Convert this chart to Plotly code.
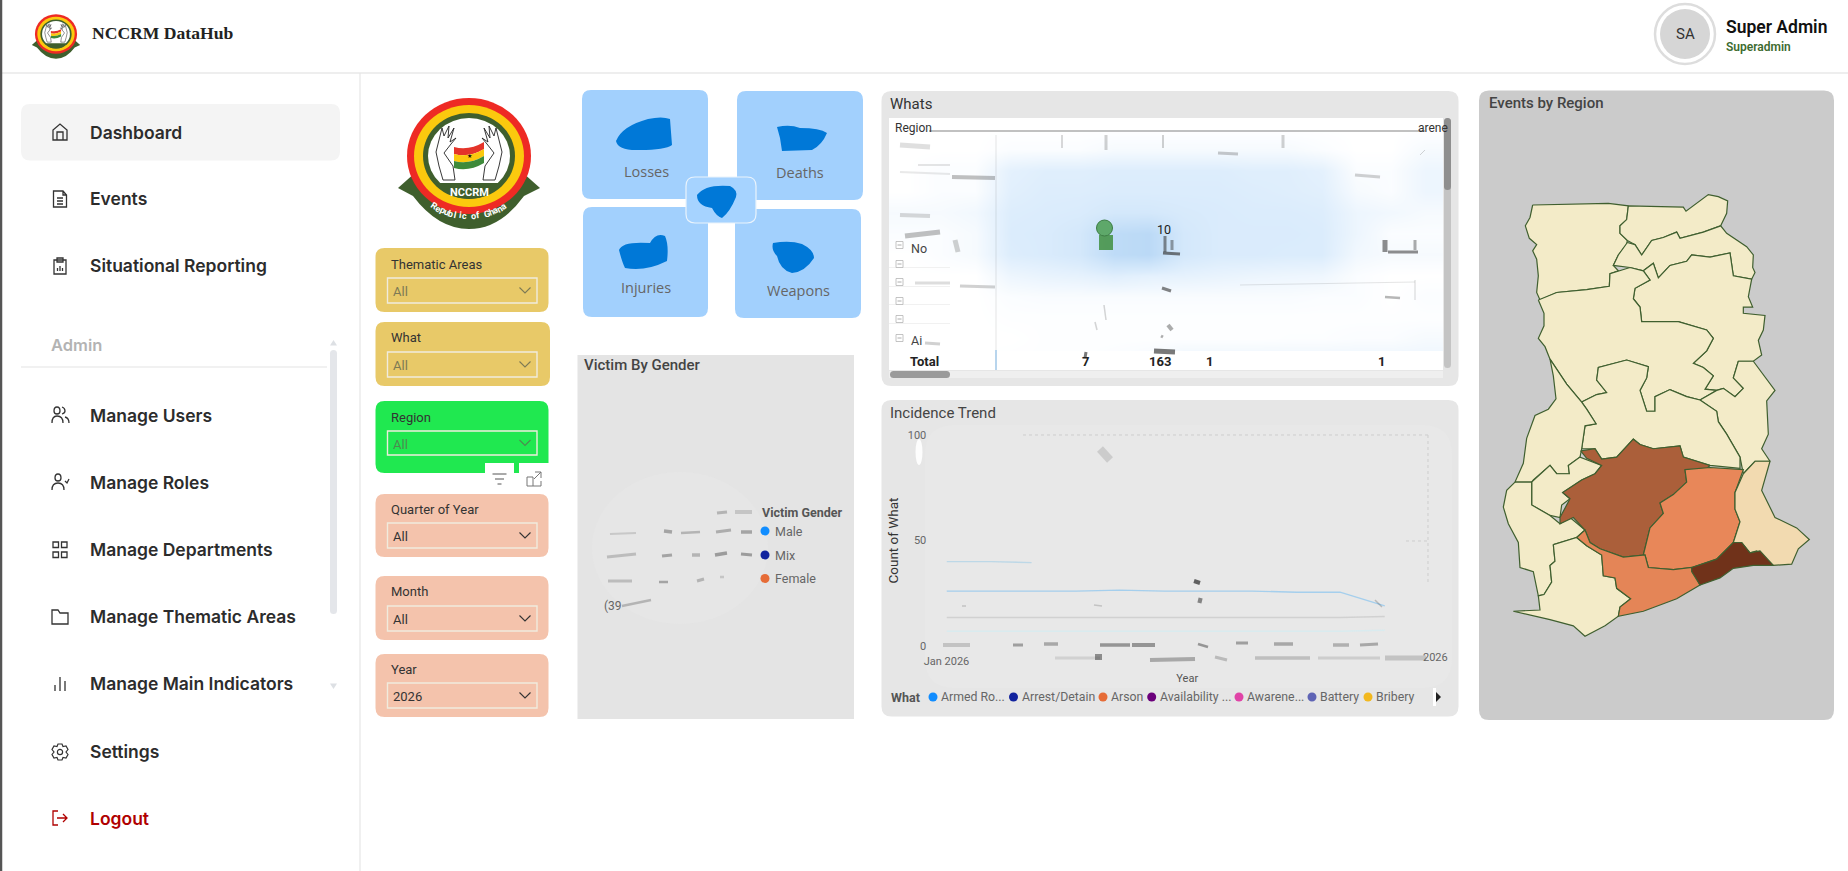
import math
import re
import plotly.graph_objects as go

W, H = 1848, 871

# sidebar
nav_items = ["Dashboard", "Events", "Situational Reporting", "Manage Users", "Manage Roles",
             "Manage Departments", "Manage Thematic Areas", "Manage Main Indicators", "Settings", "Logout"]

# slicers
slicer_names = ["Thematic Areas", "What", "Region", "Quarter of Year", "Month", "Year"]
slicer_values = ["All", "All", "All", "All", "All", "2026"]

# kpi cards
kpi_names = ["Losses", "Deaths", "Injuries", "Weapons"]

# victim legend
gender_names = ["Male", "Mix", "Female"]
gender_colors = ["#118DFF", "#12239E", "#E66C37"]

# whats table, blue wash per row / column
whats_totals = ["7", "163", "1", "1"]
whats_wash = [
    [0, 0, 0, 0, 0, 0, 0, 0, 0, 0, 0, 0, 0, 0, 0, 0],
    [0, 0, 0, .05, .05, .05, .1, .1, .1, .1, .1, .1, .05, 0, 0, .1],
    [0, .05, .05, .3, .35, .35, .38, .38, .38, .38, .35, .35, .3, .05, .05, .2],
    [0, .05, .05, .33, .38, .38, .4, .4, .4, .4, .38, .36, .33, .1, .05, .2],
    [.1, .1, .15, .38, .4, .42, .5, .5, .45, .42, .4, .4, .38, .2, .15, .1],
    [.05, .05, .1, .4, .42, .5, .8, .85, .5, .42, .42, .42, .4, .2, .05, .05],
    [0, .05, .1, .38, .42, .5, .8, .85, .5, .42, .42, .4, .4, .15, .1, .1],
    [0, 0, 0, .2, .25, .28, .35, .3, .28, .25, .22, .2, .18, .05, 0, 0],
    [0, 0, 0, .05, .07, .07, .07, .07, .07, .07, .07, .07, .05, .05, 0, .05],
    [0, 0, 0, .02, .02, .02, .02, .02, .02, .02, .02, .02, .02, .02, .02, .02],
    [0, 0, 0, 0, .02, .02, .02, .02, .02, .02, .02, .03, .03, .05, .05, .1],
    [0, 0, 0, .02, .02, .02, .05, .1, .2, .2, .2, .2, .2, .2, .2, .2],
]

# incidence trend
trend_months = ["2026-01-01", "2026-02-01", "2026-03-01", "2026-04-01", "2026-05-01", "2026-06-01",
                "2026-07-01", "2026-08-01", "2026-09-01", "2026-10-01", "2026-11-01"]
armed_robbery = [26, 26, 26, 26, 26.5, 26, 26, 26, 25.5, 25.5, 19]
arrest_detain = [40, 40, 39.5, None, None, None, None, None, None, None, None]
arson = [13.5, 13.5, 13.5, 13.5, 13.5, 13.5, 13.5, 13.5, 13.5, 13.5, 14]
awareness = [7, 7, 7, 7, 7, 7, 7, 7, 7, 7, 7.5]
trend_legend = ["Armed Ro...", "Arrest/Detain", "Arson", "Availability ...", "Awarene...", "Battery", "Bribery"]
trend_colors = ["#118DFF", "#12239E", "#E66C37", "#6B007B", "#E044A7", "#5F64B5", "#F2B81F"]

# region outlines, map units
upper_west = [(188,300),(300,298),(415,296),(475,302),(470,335),(450,350),(450,368),(472,385),(470,395),(445,420),
              (430,445),(445,458),(420,465),(418,495),(350,503),(260,510),(210,528),(200,510),(205,470),(200,430),
              (188,410),(200,395),(178,380),(166,350),(180,330)]
upper_east = [(475,302),(640,305),(648,315),(680,295),(715,275),(745,280),(773,290),(770,320),(752,350),(700,365),
              (630,380),(620,365),(580,378),(545,385),(515,420),(495,395),(472,385),(450,368),(450,350),(470,335)]
north_east = [(472,390),(495,395),(515,420),(545,385),(580,378),(620,365),(630,380),(700,365),(752,350),(770,368),
              (830,400),(850,420),(848,450),(855,462),(845,478),(790,470),(780,415),(720,425),(665,420),(650,435),
              (600,445),(565,475),(550,440),(520,458),(480,450),(430,445),(445,420)]
northern = [(520,458),(550,440),(565,475),(600,445),(650,435),(665,420),(720,425),(780,415),(790,470),(845,478),
            (835,520),(848,545),(820,545),(820,560),(885,565),(880,600),(865,625),(875,660),(850,675),(805,675),
            (790,715),(820,740),(795,760),(760,740),(740,745),(705,742),(730,710),(700,690),(670,680),(710,650),
            (730,620),(710,600),(625,580),(515,580),(510,545),(490,525),(495,500),(540,480)]
savannah = [(205,528),(260,510),(350,503),(418,495),(420,465),(445,458),(480,450),(520,458),(540,480),(495,500),
            (490,525),(510,545),(515,580),(625,580),(710,600),(730,620),(710,650),(670,680),(700,690),(730,710),
            (705,742),(740,745),(690,768),(650,760),(600,743),(555,760),(555,795),(530,795),(510,745),(530,715),
            (535,688),(470,672),(385,690),(380,720),(410,750),(380,755),(335,773),(290,730),(240,670),(225,640),
            (205,620),(222,590),(222,560)]
oti = [(805,675),(850,675),(915,745),(890,770),(895,850),(875,885),(900,915),(855,915),(820,945),(810,905),
       (770,850),(745,820),(740,795),(690,768),(740,745),(760,740),(795,760),(820,740),(790,715)]
bono_east = [(335,773),(380,755),(410,750),(380,720),(385,690),(470,672),(535,688),(530,715),(510,745),(530,795),
             (555,795),(555,760),(600,743),(650,760),(690,768),(740,795),(745,820),(770,850),(810,905),(810,932),
             (720,925),(640,905),(630,878),(550,885),(510,875),(490,862),(440,905),(395,910),(375,885),(335,885),
             (345,830),(378,825),(350,790)]
bono = [(240,670),(290,730),(335,773),(350,790),(378,825),(345,830),(335,885),(330,905),(295,925),(298,945),
        (260,945),(240,925),(190,960),(185,965),(135,965),(160,920),(170,860),(195,805),(235,790),(258,765),(250,710)]
ahafo = [(185,965),(240,925),(260,945),(298,945),(295,925),(330,905),(395,925),(375,945),(335,960),(278,990),(300,1005),
         (275,1020),(270,1050),(240,1045),(185,1020)]
ashanti = [(332,890),(375,885),(395,910),(440,905),(490,862),(510,875),(550,885),(630,878),(640,905),(720,925),
           (700,940),(645,935),(650,965),(610,995),(570,1015),(580,1040),(540,1075),(520,1140),(460,1145),(390,1125),
           (360,1110),(345,1080),(310,1050),(270,1065),(270,1050),(300,1005),(278,990),(335,960),(375,945),(395,925),
           (350,908)]
eastern = [(645,935),(720,930),(820,935),(795,990),(795,1030),(810,1060),(790,1110),(740,1150),(665,1170),(610,1175),
           (535,1170),(525,1140),(520,1140),(540,1075),(580,1040),(570,1015),(610,995),(650,965)]
volta = [(820,945),(855,915),(900,915),(875,985),(915,1050),(980,1075),(1018,1103),(985,1125),(965,1162),(910,1165),
         (860,1130),(840,1135),(815,1110),(790,1110),(810,1060),(795,1030),(795,990)]
greater_accra = [(665,1170),(740,1150),(790,1110),(815,1110),(840,1135),(870,1130),(910,1165),(850,1165),(790,1172),
                 (750,1195),(690,1212),(665,1180)]
central = [(320,1098),(345,1080),(360,1110),(390,1125),(460,1145),(525,1140),(535,1170),(610,1175),(665,1170),
           (690,1212),(620,1245),(520,1275),(445,1287),(450,1265),(482,1245),(440,1220),(435,1195),(400,1190),
           (395,1140),(350,1118)]
western = [(250,1115),(320,1098),(350,1118),(395,1140),(400,1190),(435,1195),(440,1220),(482,1245),(450,1265),
           (445,1287),(405,1310),(345,1335),(310,1310),(240,1295),(130,1275),(210,1272),(205,1238),(222,1235),
           (245,1205),(240,1165),(255,1155)]
western_north = [(135,965),(185,965),(185,1020),(240,1045),(270,1065),(300,1050),(345,1080),(320,1098),(250,1115),
                 (255,1155),(240,1165),(245,1205),(222,1235),(205,1238),(190,1180),(150,1170),(145,1110),(115,1065),
                 (100,1025),(110,985)]

region_names = ["Upper West", "Upper East", "North East", "Northern", "Savannah", "Oti", "Bono East", "Bono", "Ahafo",
                "Western North", "Western", "Ashanti", "Eastern", "Central", "Volta", "Greater Accra"]
region_shapes = [upper_west, upper_east, north_east, northern, savannah, oti, bono_east, bono, ahafo,
                 western_north, western, ashanti, eastern, central, volta, greater_accra]
region_colors = ["#F3EBC8"] * 11 + ["#AB5F3A", "#E88759", "#E48557", "#F2DAB0", "#70321A"]

shapes = []
notes = []


def rect(x0, y0, x1, y1, fill, line=None, lw=1, layer="below", opacity=1):
    shapes.append(dict(type="rect", xref="x", yref="y", x0=x0, y0=y0, x1=x1, y1=y1, fillcolor=fill, opacity=opacity,
                       line=dict(color=line or "rgba(0,0,0,0)", width=lw if line else 0), layer=layer))


def rrect(x0, y0, x1, y1, r, fill, line=None, lw=1, layer="below"):
    d = (f"M{x0+r},{y0} L{x1-r},{y0} Q{x1},{y0} {x1},{y0+r} L{x1},{y1-r} Q{x1},{y1} {x1-r},{y1} "
         f"L{x0+r},{y1} Q{x0},{y1} {x0},{y1-r} L{x0},{y0+r} Q{x0},{y0} {x0+r},{y0} Z")
    path(d, fill, line, lw, layer)


def path(d, fill="rgba(0,0,0,0)", line=None, lw=1, layer="below", opacity=1):
    shapes.append(dict(type="path", xref="x", yref="y", path=d, fillcolor=fill, opacity=opacity,
                       line=dict(color=line or "rgba(0,0,0,0)", width=lw if line else 0), layer=layer))


def circ(cx, cy, rx, fill, line=None, lw=1, layer="below", ry=None, opacity=1):
    ry = ry or rx
    shapes.append(dict(type="circle", xref="x", yref="y", x0=cx-rx, y0=cy-ry, x1=cx+rx, y1=cy+ry, fillcolor=fill,
                       opacity=opacity, line=dict(color=line or "rgba(0,0,0,0)", width=lw if line else 0), layer=layer))


def seg(x0, y0, x1, y1, color, w=1, dash="solid", layer="below", opacity=1):
    shapes.append(dict(type="line", xref="x", yref="y", x0=x0, y0=y0, x1=x1, y1=y1, opacity=opacity,
                       line=dict(color=color, width=w, dash=dash), layer=layer))


def txt(x, y, s, size=13, color="#333", family="Roboto", weight=400, anchor="left", angle=0):
    notes.append(dict(xref="x", yref="y", x=x, y=y, text=s, showarrow=False, xanchor=anchor, yanchor="middle",
                      textangle=angle, font=dict(size=size, color=color, family=family, weight=weight)))


def shift(d, cx, cy, s=1):
    # move a small relative path to its place
    return re.sub(r"(-?\d+\.?\d*),(-?\d+\.?\d*)",
                  lambda m: f"{cx+float(m.group(1))*s:.2f},{cy+float(m.group(2))*s:.2f}", d)


def icon(d, cx, cy, color="#333", lw=1.3, layer="below"):
    path(shift(d, cx, cy), "rgba(0,0,0,0)", color, lw, layer)


def draw_logo(cx, cy, s, lettering=True):
    path(shift("M-71,32 L-53,16 L53,16 L71,32 L55,40 Q31,73 0,73 Q-31,73 -56,40 Z", cx, cy, s), "#3F5F2D")
    circ(cx, cy, 62*s, "#EE2A24", ry=58*s)
    circ(cx, cy, 55*s, "#FBC90E", ry=51*s)
    circ(cx, cy, 46*s, "#3F5F2D", ry=43*s)
    circ(cx, cy, 41*s, "#FFFFFF", ry=38*s)
    path(shift("M-32,27 L32,27 Q22,42 0,43 Q-22,42 -32,27 Z", cx, cy, s), "#3F5F2D")
    for sign in (-1, 1):
        hand = (f"M{sign*14},24 L{sign*16},10 L{sign*25},-3 L{sign*18},-12 L{sign*13},-18 L{sign*19},-14 L{sign*15},-28 "
                f"L{sign*21},-18 L{sign*20},-30 L{sign*25},-20 L{sign*27},-28 L{sign*30},-16 L{sign*33},-4 L{sign*30},10 L{sign*26},24 Z")
        path(shift(hand, cx, cy, s), "#FFFFFF", "#222", .9 if lettering else .5)
    path(shift("M-15,-9 Q0,-5 15,-14 L15,-7 Q0,2 -15,-2 Z", cx, cy, s), "#E4342A")
    path(shift("M-15,-2 Q0,2 15,-7 L15,0 Q0,9 -15,5 Z", cx, cy, s), "#FBC90E")
    path(shift("M-15,5 Q0,9 15,0 L15,7 Q0,16 -15,12 Z", cx, cy, s), "#3E8A3A")
    if lettering:
        txt(cx, cy-1, "★", 6, "#111", "DejaVu Sans", anchor="center")
        txt(cx, cy+36, "NCCRM", 11, "#FFFFFF", "Roboto", 700, "center")
        label = "Republic of Ghana"
        for i, ch in enumerate(label):
            a = math.radians(90 + 33 - i * 66 / (len(label) - 1))
            txt(cx + 64*math.cos(a), cy + 60*math.sin(a), ch, 9, "#FFFFFF", "Roboto", 700, "center", math.degrees(a) - 90)


# page chrome
seg(1, 0, 1, H, "#555", 2.5, layer="above")
seg(0, 73, W, 73, "#DEDEDE", 1.2)
seg(360, 73, 360, H, "#E6E6E6", 1.2)

draw_logo(56, 34, .34, False)
txt(90, 33, "NCCRM DataHub", 17.6, "#222", "Liberation Serif", 700)

circ(1685, 34, 30, "#FFFFFF", "#DDDDDD", 2.5)
circ(1685, 34, 25, "#D6D6D6")
txt(1685, 34, "SA", 15, "#333", "Roboto", anchor="center")
txt(1724, 27, "Super Admin", 17.5, "#111", "Roboto", 600)
txt(1724, 47, "Superadmin", 12, "#3D6B2F", "Roboto", 600)

# sidebar
rrect(21, 104, 340, 160.5, 9, "#F4F4F4")
nav_y = [132, 198, 265.5, 415, 482, 549, 616.5, 683, 751, 818]
for name, y in zip(nav_items, nav_y):
    txt(88, y, name, 17.5, "#B00000" if name == "Logout" else "#2C2C2C", "Inter", 600)
txt(49, 345, "Admin", 16.5, "#B3B3B3", "Inter", 600)
seg(21, 367, 327, 367, "#E4E4E4", 1.2)
rrect(330, 350, 337, 614, 3.5, "#E4E6EA")
path("M333.5,340 L337,345.5 L330,345.5 Z", "#DDE0E4")
path("M333.5,689 L337,683.5 L330,683.5 Z", "#DDE0E4")

icons = {
    132: "M-7,8 L-7,-2 L0,-8 L7,-2 L7,8 Z M-3,8 L-3,0 L3,0 L3,8",
    199: "M-6.5,-8 L3,-8 L6.5,-4 L6.5,8 L-6.5,8 Z M3,-8 L3,-4 L6.5,-4 M-3,-1 L3,-1 M-3,2 L3,2 M-3,5 L3,5",
    266: "M-6,-6 L6,-6 L6,8 L-6,8 Z M-3,-8 L3,-8 L3,-4 L-3,-4 Z M-2.5,5 L-2.5,2 M0,5 L0,0 M2.5,5 L2.5,2",
    482: "M-8,8 Q-8,1 -2,1 Q4,1 4,8 M-5,-4 Q-5,-8 -2,-8 Q1,-8 1,-4 Q1,-1 -2,-1 Q-5,-1 -5,-4 M5,-1 L7,1 L9,-3",
    550: "M-7,-8 L-1.5,-8 L-1.5,-2.5 L-7,-2.5 Z M1.5,-8 L7,-8 L7,-2.5 L1.5,-2.5 Z M-7,2 L-1.5,2 L-1.5,7.5 L-7,7.5 Z M1.5,2 L7,2 L7,7.5 L1.5,7.5 Z",
    617: "M-8,-7 L-2,-7 L0,-4 L8,-4 L8,7 L-8,7 Z",
    684: "M-5,7 L-5,1 M0,7 L0,-7 M5,7 L5,-3",
    415: "M-8,8 Q-8,1 -3,1 Q3,1 3,8 M-6,-4 Q-6,-8 -3,-8 Q0,-8 0,-4 Q0,-1 -3,-1 Q-6,-1 -6,-4 M2,-8 Q5,-7 5,-4 Q5,-2 2,-1 M5,2 Q9,3 9,8",
}
for y, d in icons.items():
    icon(d, 60, y)
circ(60, 752, 2.6, "rgba(0,0,0,0)", "#333", 1.2)
path(shift("M-2,-8 L2,-8 L3,-5.5 L6,-6 L8,-2.5 L6,0 L8,2.5 L6,6 L3,5.5 L2,8 L-2,8 L-3,5.5 L-6,6 L-8,2.5 L-6,0 L-8,-2.5 L-6,-6 L-3,-5.5 Z", 60, 752),
     "rgba(0,0,0,0)", "#333", 1.2)
icon("M-2,-7 L-7,-7 L-7,7 L-2,7 M-3,0 L7,0 M3,-4 L7,0 L3,4", 60, 818, "#B00000")

# big logo
draw_logo(469, 156, 1)

# slicers
slicers = [
    (375.5, 248, 548.5, 312, 264, 278, 303, "#E8C968", "#7D7A55"),
    (375.5, 322, 550, 386, 337, 352, 377, "#E8C968", "#7D7A55"),
    (375.5, 401, 548.5, 473, 417, 431, 455, "#20E850", "#4E8A50"),
    (375.5, 494, 548.5, 557, 509, 523, 548, "#F4C3AC", "#333333"),
    (375.5, 576, 548.5, 640, 591, 606, 631, "#F4C3AC", "#333333"),
    (375.5, 654, 548.5, 717, 669, 683, 708, "#F4C3AC", "#333333"),
]
for (x0, y0, x1, y1, ly, by0, by1, fill, ink), name, value in zip(slicers, slicer_names, slicer_values):
    rrect(x0, y0, x1, y1, 9, fill)
    txt(389, ly, name, 13, "#333")
    rect(387.5, by0, 537, by1, "rgba(0,0,0,0)", "#F0EBDD", 1.4)
    txt(391, (by0+by1)/2 + 1, value, 13, ink)
    icon("M-5.5,-3 L0,2.5 L5.5,-3", 525, (by0+by1)/2, ink, 1.1)
rect(485, 463, 514, 487, "#FFFFFF")
rect(519, 463, 549, 487, "#FFFFFF")
icon("M-7,-5 L7,-5 M-4.5,0 L4.5,0 M-2,5 L2,5", 499.5, 479, "#555", 1)
icon("M-7,-2 L-7,7 L7,7 L7,2 M-7,-2 L-1,-2 L-1,7 M1,-7 L7,-7 L7,-1 M7,-7 L0,0", 534, 479, "#777", 1)

# kpi cards
cards = [(582, 90, 708, 199), (737, 91, 863, 200), (583, 207, 708, 317), (735, 209, 861, 318)]
label_pos = [(646, 171), (799.5, 172), (646, 287), (798, 290)]
for (x0, y0, x1, y1), name, (lx, ly) in zip(cards, kpi_names, label_pos):
    rrect(x0, y0, x1, y1, 9, "#A2D0FD")
    txt(lx, ly, name, 14.5, "#666", "Open Sans", anchor="center")
rrect(686, 177, 756, 223, 9, "#A6D3FF", "#E9F3FC", 1.2)
blobs = [
    "M616,141 Q622,126 648,119 Q662,116 670,119 L672,145 Q665,150 640,150 Q618,151 616,141 Z",
    "M777,127 Q790,124 800,128 Q820,128 827,133 Q822,145 812,150 L782,151 L780,138 Z",
    "M619,250 Q622,241 650,243 Q656,232 665,236 Q669,245 667,261 Q645,272 625,268 Q622,262 619,250 Z",
    "M773,243 Q790,240 802,244 Q814,250 814,258 Q805,272 792,273 Q780,270 777,256 Q771,250 773,243 Z",
    "M697,195 Q705,184 730,186 Q738,190 736,197 Q730,212 722,218 Q716,216 712,208 Q697,206 697,195 Z",
]
for d in blobs:
    path(d, "#0078D7", layer="above")

# victim by gender panel
rect(577.5, 355, 854, 719, "#E4E4E4")
circ(680, 548, 88, "#E6E6E6", ry=76)
txt(582, 365, "Victim By Gender", 15, "#444", "Roboto", 500)
txt(760, 512, "Victim Gender", 12.5, "#555", "Roboto", 700)
for name, color, y in zip(gender_names, gender_colors, [531, 555, 578.5]):
    circ(765, y, 4.5, color, layer="above")
    txt(773, y, name, 12.5, "#666")
txt(602, 606, "(39", 12, "#666")
for x0, y0, x1, y1, w, op in [
    (717, 513, 727, 512, 3, .3), (735, 512, 752, 512, 4, .2), (610, 534, 636, 533, 2, .18), (664, 531, 672, 532, 3.5, .4),
    (681, 533, 700, 532, 2.5, .3), (716, 532, 731, 530, 3, .35), (741, 532, 752, 532, 3.5, .4),
    (607, 557, 636, 554, 3, .25), (662, 556, 672, 555, 3, .4), (692, 555, 700, 555, 3.5, .3), (715, 555, 727, 553, 3.5, .45),
    (741, 554, 752, 555, 3, .45), (608, 581, 632, 581, 3, .25), (659, 582, 668, 582, 2.5, .4), (697, 581, 704, 579, 3, .3),
    (720, 577, 724, 577, 2.5, .2), (622, 606, 651, 600, 2.5, .3)]:
    seg(x0, y0, x1, y1, "#444", w, layer="above", opacity=op)

# whats panel
rrect(881.5, 91, 1458.5, 386, 10, "#E6E6E6")
rect(889, 118, 1443, 370, "#FFFFFF")
txt(888, 104, "Whats", 15, "#333", "Roboto", 400)
rect(889, 351, 1443, 370, "#FFFFFF", layer="above")
for y in (267, 286, 304, 323):
    rect(889, y, 950, y+1, "#E8E8E8", layer="above", opacity=.6)
rect(889, 371, 1443, 378, "#EFEFEF")
rrect(890, 371, 950, 378, 3.5, "#9A9A9A")
rrect(1444, 118, 1451, 368, 3.5, "#C4C4C4")
rrect(1444, 118, 1451, 190, 3.5, "#8F8F8F")
txt(893, 128, "Region", 12, "#333")
txt(1416, 128, "arene", 12, "#333")
seg(929, 131, 1425, 131, "#666", 2, layer="above", opacity=.4)
for x0, y0, x1, y1, w, op in [
    (996, 135, 996, 370, 1, .12), (900, 145, 930, 147, 5, .15), (952, 177, 995, 178, 4, .3), (918, 165, 950, 165, 2, .12),
    (900, 172, 950, 174, 2, .1), (1062, 135, 1062, 148, 2, .18), (1106, 135, 1106, 150, 3, .22), (1163, 135, 1163, 148, 2, .22),
    (1283, 135, 1283, 148, 3, .22), (1218, 153, 1238, 154, 3, .25), (1355, 175, 1380, 177, 3, .22), (1420, 155, 1425, 150, 1, .2),
    (900, 215, 930, 216, 4, .18), (905, 236, 940, 232, 5, .3), (955, 240, 958, 252, 5, .22), (1165, 236, 1165, 252, 3, .55),
    (1163, 253, 1180, 254, 3, .65), (1172, 240, 1172, 250, 3, .45), (1385, 240, 1385, 252, 5, .55), (1388, 252, 1418, 252, 3, .55),
    (1415, 240, 1415, 250, 3, .4), (1162, 288, 1171, 291, 3, .6), (960, 286, 995, 287, 3, .22), (915, 283, 950, 283, 3, .16),
    (1385, 297, 1400, 298, 2.5, .35), (1415, 280, 1415, 300, 1, .2), (1240, 285, 1415, 282, 1, .12), (1168, 325, 1172, 330, 4, .4),
    (1161, 336, 1163, 337, 3, .4), (1154, 351, 1175, 352, 5, .65), (1086, 352, 1085, 358, 3, .65),
    (925, 343, 940, 344, 3, .22), (1095, 322, 1097, 330, 1.5, .2), (1104, 305, 1106, 320, 1.5, .2)]:
    seg(x0, y0, x1, y1, "#333", w, layer="above", opacity=op)
seg(996, 350, 996, 370, "#7FB8E8", 1, layer="above")
rect(1099, 235, 1113, 250, "#3F8F3F", layer="above", opacity=.85)
circ(1104.5, 228, 8, "#5EA86A", "#3D7D45", 1, layer="above")
txt(1164, 229, "10", 12.5, "#222", anchor="center")
for y in (245, 264, 282, 301, 319, 338):
    rect(896, y-3.5, 903, y+3.5, "#FFFFFF", "#B5B5B5", .8, layer="above")
    seg(897.5, y, 901.5, y, "#999", .8, layer="above")
txt(909, 248, "No", 12.5, "#444")
txt(909, 340, "Ai", 12.5, "#444")
txt(908, 361, "Total", 13, "#222", "Roboto", 700)
for s, x in zip(whats_totals, [1085, 1160, 1209, 1381]):
    txt(x, 361, s, 13, "#222", "Roboto", 700, "center")

# incidence trend panel
rrect(881.5, 400, 1458.5, 716.5, 10, "#E6E6E6")
rrect(925, 425, 1452, 688, 30, "#E8E8E8")
txt(888, 413, "Incidence Trend", 15, "#444", "Roboto", 400)
seg(1023, 435, 1428, 435, "#CDCDCD", 1, "dot")
seg(1406, 541, 1428, 541, "#CDCDCD", 1, "dot")
seg(1428, 435, 1428, 585, "#CDCDCD", 1, "dot")
circ(919, 452, 3.5, "#FFFFFF", ry=13, opacity=.9)
txt(889, 697, "What", 12.5, "#555", "Roboto", 700)
marker_x = [933, 1013.5, 1103, 1151.7, 1239, 1312, 1368]
for name, color, x in zip(trend_legend, trend_colors, marker_x):
    circ(x, 697, 4.5, color, layer="above")
    txt(x+6, 697, name, 12.3, "#666")
rect(1433, 688, 1436, 706, "#FFFFFF", layer="above")
path("M1436,692 L1441,697 L1436,702 Z", "#222", layer="above")
txt(1450, 657, "2026", 11, "#666", anchor="right")
for x0, y0, x1, y1, w, op in [
    (943, 645, 970, 645, 4, .2), (1013, 645, 1023, 645, 3, .4), (1044, 644, 1058, 644, 3.5, .35), (1100, 645, 1130, 645, 3.5, .45),
    (1132, 645, 1155, 645, 4, .45), (1198, 644, 1208, 647, 2.5, .45), (1236, 643, 1248, 643, 3, .4), (1274, 644, 1293, 644, 3.5, .35),
    (1333, 645, 1349, 645, 3.5, .3), (1360, 645, 1378, 644, 3, .35), (1055, 658, 1100, 658, 3, .12), (1095, 657, 1102, 657, 6, .5),
    (1150, 660, 1195, 659, 4, .35), (1215, 657, 1227, 660, 3, .25), (1255, 658, 1310, 658, 3.5, .22), (1318, 658, 1380, 658, 3, .14),
    (1385, 658, 1426, 658, 5, .2), (1100, 449, 1110, 460, 8, .15), (1194, 581, 1200, 583, 4, .75), (1198, 600, 1202, 601, 5, .55),
    (962, 606, 966, 606, 1.5, .2), (1094, 605, 1102, 606, 1.5, .2), (1375, 600, 1382, 607, 1.5, .25)]:
    seg(x0, y0, x1, y1, "#333", w, layer="above", opacity=op)

fig = go.Figure()

# pixel canvas for the page furniture
fig.add_trace(go.Scatter(x=[0, W], y=[0, H], mode="markers", marker=dict(opacity=0), hoverinfo="skip", showlegend=False))

# whats wash
fig.add_trace(go.Heatmap(z=whats_wash, xaxis="x2", yaxis="y2", zmin=0, zmax=1, zsmooth="best", showscale=False,
                         colorscale=[[0, "#FFFFFF"], [.4, "#DBECFC"], [1, "#B0D3F4"]], hoverinfo="skip"))

# trend lines
for series, name, color in [(armed_robbery, "Armed Robbery", "rgba(110,185,240,.55)"),
                            (arrest_detain, "Arrest/Detain", "rgba(110,185,230,.35)"),
                            (arson, "Arson", "rgba(200,200,200,.7)"),
                            (awareness, "Awareness", "rgba(215,235,240,.9)")]:
    fig.add_trace(go.Scatter(x=trend_months, y=series, mode="lines", name=name, xaxis="x3", yaxis="y3",
                             line=dict(color=color, width=1.4), showlegend=False))

# ghana map
for name, outline, color in zip(region_names, region_shapes, region_colors):
    xs = [p[0] for p in outline] + [outline[0][0]]
    ys = [p[1] for p in outline] + [outline[0][1]]
    fig.add_trace(go.Scatter(x=xs, y=ys, mode="lines", fill="toself", fillcolor=color, name=name, xaxis="x4", yaxis="y4",
                             line=dict(color="#3F5F2F", width=1.2), hoverinfo="name", showlegend=False))

rrect(1479, 90.5, 1834, 720, 10, "#CBCBCB")
txt(1487, 103, "Events by Region", 15, "#444", "Roboto", 500)


def dom_x(a, b):
    return [a / W, b / W]


def dom_y(a, b):
    return [1 - b / H, 1 - a / H]


hidden = dict(visible=False, fixedrange=True, automargin=False)
fig.update_layout(
    width=W, height=H, margin=dict(l=0, r=0, t=0, b=0, pad=0, autoexpand=False), paper_bgcolor="#FFFFFF",
    plot_bgcolor="rgba(0,0,0,0)", showlegend=False, shapes=shapes, annotations=notes, hovermode="closest",
    xaxis=dict(range=[0, W], domain=[0, 1], **hidden),
    yaxis=dict(range=[H, 0], domain=[0, 1], **hidden),
    xaxis2=dict(range=[-.5, 15.5], domain=dom_x(889, 1443), anchor="y2", **hidden),
    yaxis2=dict(range=[11.5, -.5], domain=dom_y(118, 370), anchor="x2", **hidden),
    xaxis3=dict(type="date", range=["2026-01-01", "2026-12-01"], domain=dom_x(946.5, 1428), anchor="y3", automargin=False,
                tickvals=["2026-01-01"], ticktext=["Jan 2026"], showgrid=False, zeroline=False, showline=False,
                ticks="outside", ticklen=5, tickcolor="rgba(0,0,0,0)", tickfont=dict(size=11, color="#666", family="Roboto"),
                title=dict(text="Year", standoff=7, font=dict(size=11, color="#555", family="Roboto")), fixedrange=True),
    yaxis3=dict(range=[0, 100], domain=dom_y(435, 646), anchor="x3", tickvals=[0, 50, 100], showgrid=False, zeroline=False,
                showline=False, ticks="outside", ticklen=17, tickcolor="rgba(0,0,0,0)", automargin=False,
                tickfont=dict(size=11, color="#666", family="Roboto"),
                title=dict(text="Count of What", standoff=6, font=dict(size=13.5, color="#333", family="Roboto")), fixedrange=True),
    xaxis4=dict(range=[0, 1134], domain=dom_x(1470, 1848), anchor="y4", **hidden),
    yaxis4=dict(range=[1560, 0], domain=dom_y(80, 730), anchor="x4", **hidden),
)

fig.write_html("out.html", config={"displayModeBar": False},
               post_script="document.body.style.margin='0';document.body.style.overflow='hidden';")
